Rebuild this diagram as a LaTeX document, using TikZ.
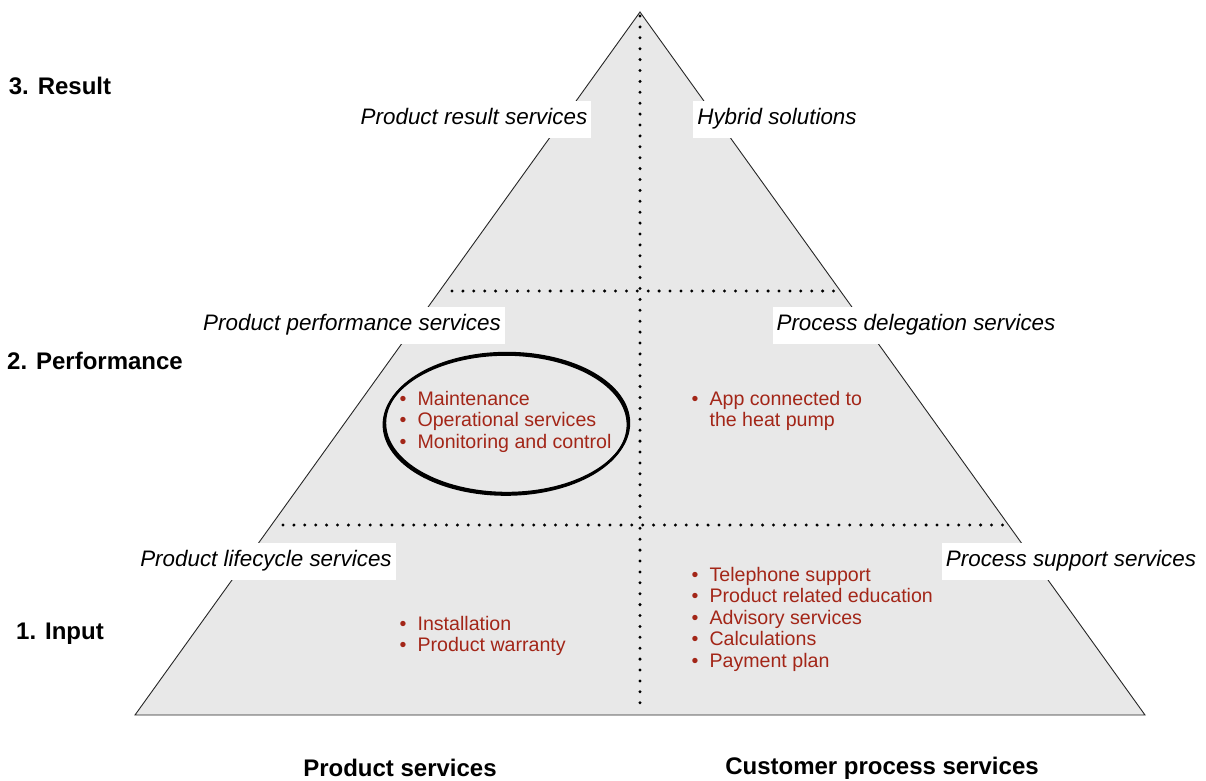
\documentclass[tikz,border=0pt]{standalone}
\usepackage{fontspec}
\setmainfont{Liberation Sans}
\definecolor{pyrfill}{RGB}{232,232,232}
\definecolor{itemred}{RGB}{163,38,24}
\newcommand\mylist[1]{\begin{tabular}[t]{@{}l@{\hspace{11pt}}l@{}}#1\end{tabular}}
\begin{document}
\begin{tikzpicture}[x=1pt,y=-1pt,
  cat/.style={fill=white, font=\fontsize{22.4}{26}\selectfont\itshape, inner xsep=4pt, inner ysep=0pt, text height=16pt, text depth=5pt, minimum height=37pt},
  lvl/.style={font=\fontsize{24}{28}\selectfont\bfseries, inner sep=0pt},
  items/.style={text=itemred, font=\fontsize{19.6}{21.5}\selectfont, inner sep=0pt, anchor=base west},
  dotline/.style={line width=3.3pt, line cap=round, dash pattern=on 0pt off 10.9pt},
  edge/.style={draw=black!85, line width=0.9pt}]
\useasboundingbox (0,0) rectangle (1206,780);
% pyramid
\coordinate (apex) at (640,12);
\coordinate (bl) at (135,715);
\coordinate (br) at (1145,715);
\filldraw[fill=pyrfill, edge, line join=miter] (apex) -- (br) -- (bl) -- cycle;
% dotted dividers
\coordinate (vtop) at (640,16);
\coordinate (vbot) at (640,705);
\coordinate (h1l) at (452,291);
\coordinate (h1r) at (835,291);
\coordinate (h2l) at (283,525);
\coordinate (h2r) at (1006,525);
\draw[dotline] (vtop) -- (vbot);
\draw[dotline] (h1l) -- (h1r);
\draw[dotline] (h2l) -- (h2r);
% category labels
\node[cat] (prs) at (474,119) {Product result services};
\node[cat] (hyb) at (777,119) {Hybrid solutions};
\node[cat] (pps) at (352,325) {Product performance services};
\node[cat] (pds) at (916,325) {Process delegation services};
\node[cat] (pls) at (266,561) {Product lifecycle services};
\node[cat] (pss) at (1071,561) {Process support services};
% level labels
\node[lvl] (l3) at (60,86) {3. Result};
\node[lvl] (l2) at (95,361) {2. Performance};
\node[lvl] (l1) at (60,634) {1. Input};
\node[lvl] (cps) at (400,768) {Product services};
\node[lvl] (cup) at (882,768) {Customer process services};
% items
\node[items] (perf) at (399.5,405) {\mylist{\textbullet & Maintenance\\ \textbullet & Operational services\\ \textbullet & Monitoring and control}};
\node[items] (app) at (691.5,405) {\mylist{\textbullet & App connected to\\ & the heat pump}};
\node[items] (inst) at (399.5,630) {\mylist{\textbullet & Installation\\ \textbullet & Product warranty}};
\node[items] (supp) at (691.5,581) {\mylist{\textbullet & Telephone support\\ \textbullet & Product related education\\ \textbullet & Advisory services\\ \textbullet & Calculations\\ \textbullet & Payment plan}};
% highlight ellipse
\coordinate (ec) at (507,423);
\draw[line width=2.4pt] (ec) ellipse [x radius=122, y radius=70];
\draw[line width=2.4pt] ([shift={(-1.2,1.6)}]ec) ellipse [x radius=122, y radius=70];
\end{tikzpicture}
\end{document}
